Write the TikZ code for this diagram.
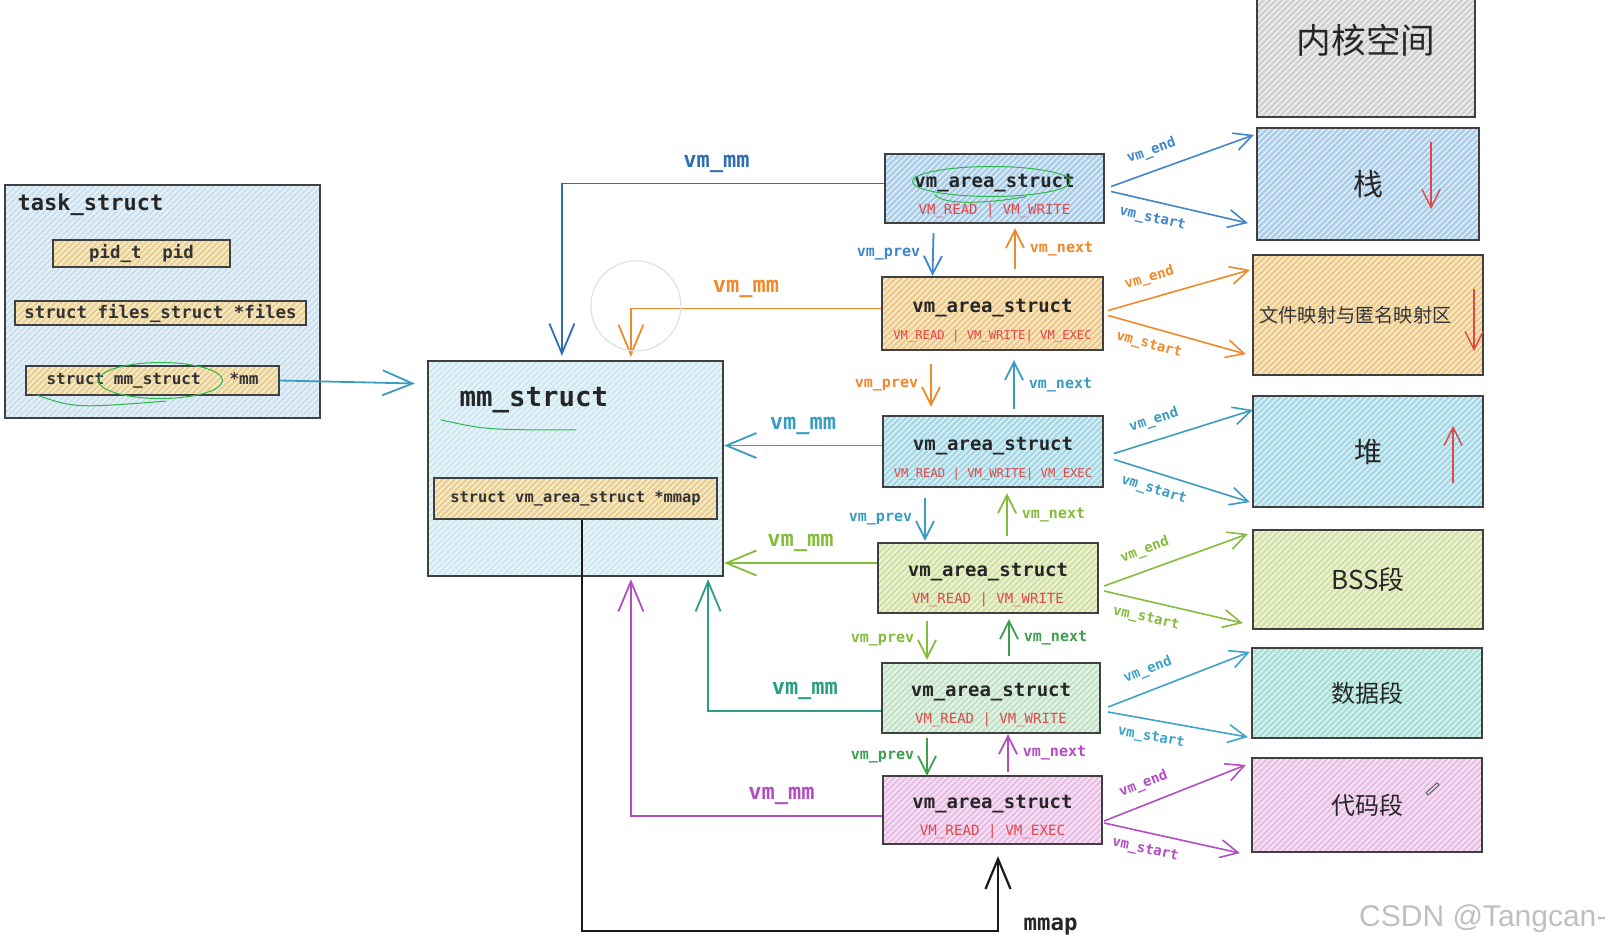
\documentclass[tikz,border=0pt]{standalone}
\usepackage{fontspec}
\setmonofont{DejaVu Sans Mono}
\newfontfamily\cjk{Noto Sans CJK SC}
\newfontfamily\wmfont{Liberation Sans}
\usetikzlibrary{calc,patterns,arrows.meta}

\definecolor{cblue}{HTML}{3F86CC}
\definecolor{cdblue}{HTML}{2F6DB5}
\definecolor{corange}{HTML}{F0892A}
\definecolor{ccyan}{HTML}{3A9CC0}
\definecolor{cygreen}{HTML}{86BC3C}
\definecolor{cgreen}{HTML}{3DA050}
\definecolor{cteal}{HTML}{2A9E84}
\definecolor{cteal2}{HTML}{3DA3C8}
\definecolor{cpurple}{HTML}{B44CC4}
\definecolor{cred}{HTML}{E04848}
\definecolor{cannot}{HTML}{2DB84A}

\definecolor{fTask}{HTML}{C9E2F4}
\definecolor{fField}{HTML}{F1D088}
\definecolor{fMm}{HTML}{CDEBF7}
\definecolor{fBlue}{HTML}{A6CFF2}
\definecolor{fOrange}{HTML}{F6CB80}
\definecolor{fCyan}{HTML}{A0DCEE}
\definecolor{fYgreen}{HTML}{D3E5A0}
\definecolor{fGreen}{HTML}{C2E7C8}
\definecolor{fPink}{HTML}{F0BCEC}
\definecolor{fGray}{HTML}{D2D2D2}
\definecolor{fTeal}{HTML}{A0E4DA}

\newcommand\flg[2][7]{{\mdseries\color{cred}\fontsize{#1}{13.5}\selectfont #2}}
\newcommand\cjkfs[1]{\cjk\fontsize{#1}{#1}\selectfont}

\tikzset{
  sk/.style={draw=black!75, line width=1.1pt, preaction={fill=#1},
    preaction={pattern=north east lines, pattern color=white}},
  field/.style={sk=fField, inner sep=0pt, text=black!80,
    font=\ttfamily\bfseries\fontsize{#1}{10}\selectfont},
  vma/.style={sk=#1, align=center, inner sep=0pt, text=black!85,
    font=\ttfamily\bfseries\fontsize{9.5}{13.5}\selectfont},
  seg/.style={sk=#1, inner sep=0pt, text=black!85},
  title/.style={text=black!85, font=\ttfamily\bfseries\fontsize{#1}{#1}\selectfont},
  lbl/.style={inner sep=1pt, font=\ttfamily\bfseries\fontsize{7.5}{8}\selectfont},
  slbl/.style={inner sep=1pt, font=\ttfamily\bfseries\fontsize{7}{8}\selectfont},
  mmlbl/.style={inner sep=1pt, font=\ttfamily\bfseries\fontsize{11}{12}\selectfont},
  big/.style={-{Straight Barb[length=15pt,width=12.5pt]}},
  annot/.style={draw=cannot, line width=0.5pt},
}

\begin{document}
\begin{tikzpicture}[x=0.5pt,y=-0.5pt,line width=0.9pt,
    >={Straight Barb[length=9pt,width=9pt]}]
  \useasboundingbox (0,0) rectangle (1619,949);

  % task_struct
  \node[sk=fTask, minimum width=157.5pt, minimum height=116.5pt] (task) at (162.5,301.5) {};
  \node[title=11, anchor=west] (tasklbl) at (10,205) {task\_struct};
  \node[field=8.7, minimum width=88.5pt, minimum height=13.5pt] (pid) at (141.5,253.5) {pid\_t\ \ pid};
  \node[field=8.7, minimum width=145.5pt, minimum height=12pt] (files) at (160.5,313) {struct files\_struct *files};
  \node[field=8, minimum width=126.5pt, minimum height=14.5pt] (mmptr) at (152.5,380.5) {struct mm\_struct\ \ \ *mm};

  % mm_struct
  \node[sk=fMm, minimum width=147.5pt, minimum height=107.5pt] (mm) at (575.5,468.5) {};
  \node[title=13.7, anchor=west] (mmlbl) at (452,400) {mm\_struct};
  \node[field=7.7, minimum width=141.5pt, minimum height=20.5pt] (mmap) at (575.5,498.5) {struct vm\_area\_struct *mmap};

  % vm_area_struct list
  \node[vma=fBlue, minimum width=109.5pt, minimum height=34.5pt] (vma1) at (994.5,188.5) {\rule{0pt}{14pt}vm\_area\_struct\\\flg{VM\_READ | VM\_WRITE}};
  \node[vma=fOrange, minimum width=110.5pt, minimum height=36.5pt] (vma2) at (992.5,313.5) {\rule{0pt}{14pt}vm\_area\_struct\\\flg[6.1]{VM\_READ | VM\_WRITE| VM\_EXEC}};
  \node[vma=fCyan, minimum width=110pt, minimum height=35.5pt] (vma3) at (993,451.5) {\rule{0pt}{14pt}vm\_area\_struct\\\flg[6.1]{VM\_READ | VM\_WRITE| VM\_EXEC}};
  \node[vma=fYgreen, minimum width=110pt, minimum height=35pt] (vma4) at (988,578) {\rule{0pt}{14pt}vm\_area\_struct\\\flg{VM\_READ | VM\_WRITE}};
  \node[vma=fGreen, minimum width=109pt, minimum height=35pt] (vma5) at (991,698) {\rule{0pt}{14pt}vm\_area\_struct\\\flg{VM\_READ | VM\_WRITE}};
  \node[vma=fPink, minimum width=109.5pt, minimum height=34pt] (vma6) at (992.5,810) {\rule{0pt}{14pt}vm\_area\_struct\\\flg[7.1]{VM\_READ | VM\_EXEC}};

  % memory layout
  \node[seg=fGray, minimum width=109pt, minimum height=77pt, font=\cjkfs{17.3}] (kern) at (1366,40) {内核空间};
  \node[seg=fBlue, minimum width=111pt, minimum height=56pt, font=\cjkfs{15}] (stack) at (1368,184) {栈};
  \node[seg=fOrange, minimum width=115pt, minimum height=60pt,
    label={[font=\cjkfs{9.6}, text=black!80, anchor=west, name=filelbl]west:文件映射与匿名映射区}] (filemap) at (1368,315) {};
  \node[seg=fCyan, minimum width=115pt, minimum height=55.5pt, font=\cjkfs{14}] (heap) at (1368,451.5) {堆};
  \node[seg=fYgreen, minimum width=115pt, minimum height=49.5pt, font=\cjkfs{13}] (bss) at (1368,579.5) {BSS段};
  \node[seg=fTeal, minimum width=115pt, minimum height=45pt, font=\cjkfs{12}] (data) at (1367,693) {数据段};
  \node[seg=fPink, minimum width=115pt, minimum height=47pt, font=\cjkfs{12}] (code) at (1367,805) {代码段};

  % growth directions
  \draw[cred, line width=0.7pt, ->] ($(stack.north east)+(-49,15)$) -- ($(stack.south east)+(-49,-32)$);
  \draw[cred, line width=0.7pt, ->] ($(filemap.north east)+(-10,35)$) -- ($(filemap.south east)+(-10,-25)$);
  \draw[cred, line width=0.7pt, ->] ($(heap.south east)+(-31,-25)$) -- ($(heap.north east)+(-31,31)$);

  % task_struct -> mm_struct
  \draw[ccyan, big] (mmptr.east) -- ($(mmptr.east -| mm.west)+(-12,3)$);

  % vm_mm back to mm_struct
  \draw[cdblue, big] ($(vma1.west)+(0,-5)$) -| node[mmlbl, pos=0.26, above=4pt] (mm1lbl) {vm\_mm} ($(mm.north west)+(135,-4)$);
  \draw[corange, big] ($(vma2.west)+(0,-5)$) -| node[mmlbl, pos=0.27, above=4pt] (mm2lbl) {vm\_mm} ($(mm.north west)+(204,-3)$);
  \coordinate (v3) at ($(vma3.west)+(0,-6)$);
  \coordinate (v4) at ($(vma4.west)+(0,-15)$);
  \draw[ccyan, big] (v3) -- node[mmlbl, above=4pt] (mm3lbl) {vm\_mm} (v3 -| mm.east);
  \draw[cygreen, big] (v4) -- node[mmlbl, above=4pt] (mm4lbl) {vm\_mm} (v4 -| mm.east);
  \draw[cteal, big] ($(vma5.west)+(0,13)$) -| node[mmlbl, pos=0.22, above=4pt] (mm5lbl) {vm\_mm} ($(mm.south east)+(-16,2)$);
  \draw[cpurple, big] ($(vma6.west)+(0,6)$) -| node[mmlbl, pos=0.2, above=4pt] (mm6lbl) {vm\_mm} ($(mm.south west)+(204,2)$);

  % mmap
  \coordinate (mmapin) at ($(vma6.south)+(5.5,86)$);
  \draw[black!90, line width=1.1pt, big] ($(mmap.south west)+(149,0)$) |- (mmapin) -- ($(vma6.south)+(5.5,11)$);
  \node[title=11.2, anchor=base west] (mmaplbl) at ($(mmapin)+(18,-1)$) {mmap};

  % vm_prev / vm_next
  \draw[cblue, ->] ($(vma1.south)+(-61,9)$) -- node[lbl, left=5pt] (p1) {vm\_prev} ($(vma2.north)+(-60,0)$);
  \draw[corange, ->] ($(vma2.north)+(22.5,-7)$) -- node[lbl, right=6pt] (n1) {vm\_next} ($(vma1.south)+(20.5,4)$);
  \draw[corange, ->] ($(vma2.south)+(-61.5,13)$) -- node[lbl, left=5pt] (p2) {vm\_prev} ($(vma3.north)+(-62,-8)$);
  \draw[ccyan, ->] ($(vma3.north)+(21,-6)$) -- node[lbl, right=6pt] (n2) {vm\_next} ($(vma2.south)+(21.5,9)$);
  \draw[ccyan, ->] ($(vma3.south)+(-68,10)$) -- node[lbl, left=5pt] (p3) {vm\_prev} ($(vma4.north)+(-63,-1)$);
  \draw[cygreen, ->] ($(vma4.north)+(19,-6)$) -- node[lbl, right=6pt] (n3) {vm\_next} ($(vma3.south)+(14,5)$);
  \draw[cygreen, ->] ($(vma4.south)+(-61,7)$) -- node[lbl, left=5pt] (p4) {vm\_prev} ($(vma5.north)+(-64,-2)$);
  \draw[cgreen, ->] ($(vma5.north)+(18,-6)$) -- node[lbl, right=6pt] (n4) {vm\_next} ($(vma4.south)+(21,5)$);
  \draw[cgreen, ->] ($(vma5.south)+(-64,4)$) -- node[lbl, left=5pt] (p5) {vm\_prev} ($(vma6.north)+(-65.5,1)$);
  \draw[cpurple, ->] ($(vma6.north)+(15.5,-3)$) -- node[lbl, right=6pt] (n5) {vm\_next} ($(vma5.south)+(17,0)$);

  % vm_end / vm_start
  \draw[cblue, line width=0.8pt, ->] ($(vma1.east)+(6,-2)$) -- node[slbl, pos=0.33, above=5pt, sloped] (e1) {vm\_end} ($(stack.north west)+(-2,8)$);
  \draw[cblue, line width=0.8pt, ->] ($(vma1.east)+(6,3)$) -- node[slbl, pos=0.33, below=4pt, sloped] (s1) {vm\_start} ($(stack.south west)+(-8,-18)$);
  \draw[corange, line width=0.8pt, ->] ($(vma2.east)+(4,-3)$) -- node[slbl, pos=0.33, above=5pt, sloped] (e2) {vm\_end} ($(filemap.north west)+(-2,16)$);
  \draw[corange, line width=0.8pt, ->] ($(vma2.east)+(4,2)$) -- node[slbl, pos=0.33, below=4pt, sloped] (s2) {vm\_start} ($(filemap.south west)+(-6,-22)$);
  \draw[ccyan, line width=0.8pt, ->] ($(vma3.east)+(10,2)$) -- node[slbl, pos=0.33, above=5pt, sloped] (e3) {vm\_end} ($(heap.north west)+(1,15)$);
  \draw[ccyan, line width=0.8pt, ->] ($(vma3.east)+(10,8)$) -- node[slbl, pos=0.33, below=4pt, sloped] (s3) {vm\_start} ($(heap.south west)+(-2,-6)$);
  \draw[cygreen, line width=0.8pt, ->] ($(vma4.east)+(5,8)$) -- node[slbl, pos=0.33, above=5pt, sloped] (e4) {vm\_end} ($(bss.north west)+(-4,5)$);
  \draw[cygreen, line width=0.8pt, ->] ($(vma4.east)+(5,13)$) -- node[slbl, pos=0.33, below=4pt, sloped] (s4) {vm\_start} ($(bss.south west)+(-9,-7)$);
  \draw[cteal2, line width=0.8pt, ->] ($(vma5.east)+(7,9)$) -- node[slbl, pos=0.33, above=5pt, sloped] (e5) {vm\_end} ($(data.north west)+(-1,5)$);
  \draw[cteal2, line width=0.8pt, ->] ($(vma5.east)+(7,14)$) -- node[slbl, pos=0.33, below=4pt, sloped] (s5) {vm\_start} ($(data.south west)+(-3,-2)$);
  \draw[cpurple, line width=0.8pt, ->] ($(vma6.east)+(1,11)$) -- node[slbl, pos=0.33, above=5pt, sloped] (e6) {vm\_end} ($(code.north west)+(-5,8)$);
  \draw[cpurple, line width=0.8pt, ->] ($(vma6.east)+(1,13)$) -- node[slbl, pos=0.33, below=4pt, sloped] (s6) {vm\_start} ($(code.south west)+(-11,0)$);

  % hand marks
  \draw[annot] ($(mmptr.center)+(8,0)$) ellipse (62 and 18);
  \draw[annot] ($(mmptr.south west)+(12,-1)$) .. controls ($(mmptr.south west)+(50,12)$) .. ($(mmptr.south west)+(141,5)$);
  \draw[annot] ($(mm.north west)+(14,60)$) .. controls ($(mm.north west)+(60,70)$) .. ($(mm.north west)+(149,70)$);
  \draw[annot] ($(vma1.center)+(-3,-7)$) ellipse (79 and 15);
  \draw[annot] ($(vma1.center)+(-60,6)$) .. controls ($(vma1.center)+(-50,18)$) and ($(vma1.center)+(0,14)$) .. ($(vma1.center)+(32,8)$);
  \draw[black!12, line width=0.6pt] ($(mm.north west)+(209,-54)$) circle (45);
  \draw[black!60, line width=0.5pt] ($(code.north east)+(-57,36)$) -- ++(11,-10) -- ++(2,2) -- ++(-11,10) -- cycle;

  \node[anchor=east, text=black!25, font=\wmfont\fontsize{15}{16}\selectfont] (wm) at (1614,919) {CSDN @Tangcan-};
\end{tikzpicture}
\end{document}
